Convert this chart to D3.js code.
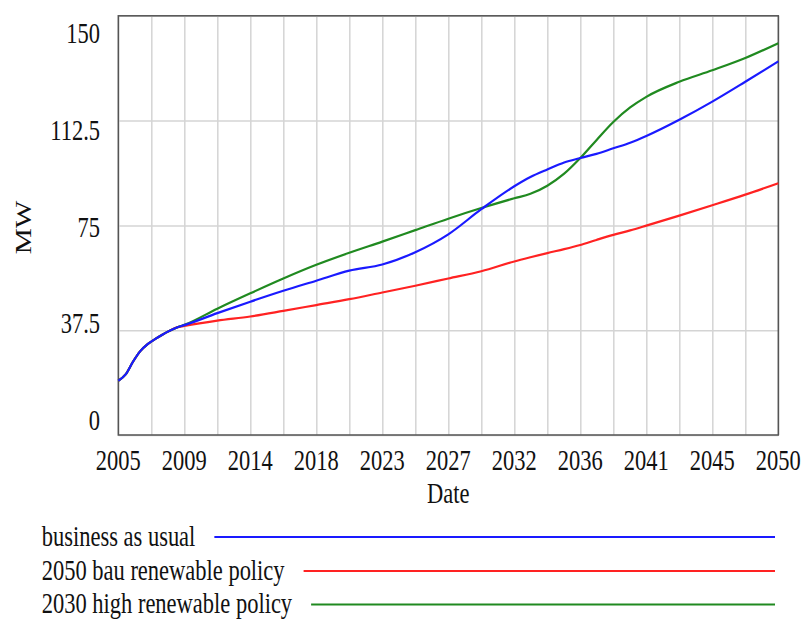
<!DOCTYPE html>
<html>
<head>
<meta charset="utf-8">
<script src="https://cdn.jsdelivr.net/npm/d3@7"></script>
<style>
  html, body { margin: 0; padding: 0; background: #fff; }
  svg { display: block; }
  text { font-family: "Liberation Serif", "Times New Roman", serif; fill: #111; }
</style>
</head>
<body>
<svg id="chart" width="801" height="620"></svg>
<script>
// Simulation output, MW by year
const years = [2005, 2005.5, 2006, 2006.5, 2007, 2007.5, 2008, 2008.5, 2009, 2009.5,
  2011.75, 2014, 2016.25, 2018.5, 2020.75, 2023, 2025.25, 2027.5, 2029.75, 2032,
  2033.1, 2034.25, 2035.4, 2036.5, 2037.6, 2038.75, 2039.9, 2041, 2043.25, 2045.5,
  2047.75, 2050];

const businessAsUsual = [19.4, 21.7, 26.2, 30.0, 32.5, 34.3, 35.9, 37.3, 38.5, 39.3,
  43.6, 47.7, 51.6, 55.2, 58.8, 61.0, 65.4, 71.8, 80.8, 89.0,
  92.3, 95.0, 97.5, 99.1, 100.6, 102.6, 104.6, 107.0, 112.8, 119.3,
  126.4, 133.7];

const bauRenewable2050 = [19.4, 21.7, 26.2, 30.0, 32.5, 34.3, 35.9, 37.3, 38.5, 39.0,
  40.9, 42.4, 44.4, 46.5, 48.6, 51.0, 53.4, 56.0, 58.6, 62.1,
  63.6, 65.1, 66.5, 68.0, 69.8, 71.6, 73.2, 74.9, 78.5, 82.2,
  86.0, 90.1];

const highRenewable2030 = [19.4, 21.7, 26.2, 30.0, 32.5, 34.3, 35.9, 37.3, 38.5, 39.4,
  45.2, 50.7, 56.0, 60.9, 65.2, 69.2, 73.3, 77.4, 81.2, 84.7,
  86.3, 89.2, 93.5, 99.1, 105.5, 112.0, 117.2, 121.0, 126.4, 130.5,
  134.9, 140.2];

const seriesNames = ["business as usual", "2050 bau renewable policy", "2030 high renewable policy"];
const seriesColors = ["#1a1aff", "#ff2222", "#208a20"];

const yTicks = [0, 37.5, 75, 112.5, 150];
const xTickYears = [2005, 2009.5, 2014, 2018.5, 2023, 2027.5, 2032, 2036.5, 2041, 2045.5, 2050];
const xTickLabels = ["2005", "2009", "2014", "2018", "2023", "2027", "2032", "2036", "2041", "2045", "2050"];
const xGridYears = d3.range(0, 21).map(i => 2005 + i * 2.25);

const svg = d3.select("#chart");
const plotLeft = 118.3, plotRight = 778.3, plotTop = 15.8, plotBottom = 435;
const stretch = 1.3;    // tall, narrow lettering
const fontSize = 22.5;

const x = d3.scaleLinear().domain([2005, 2050]).range([plotLeft, plotRight]);
const y = d3.scaleLinear().domain([0, 150]).range([plotBottom, plotTop]);
// tick labels are spread evenly inside the axis span
const yLabelPos = d3.scalePoint().domain(yTicks.slice().reverse()).range([43, 430]);

// gridlines
svg.append("g")
  .attr("transform", `translate(0,${plotBottom})`)
  .call(d3.axisBottom(x).tickValues(xGridYears).tickSize(-(plotBottom - plotTop)).tickFormat(""))
  .call(g => g.select(".domain").remove())
  .call(g => g.selectAll(".tick line").attr("stroke", "#d4d4d4").attr("stroke-width", 1.5));

svg.append("g")
  .attr("transform", `translate(${plotLeft},0)`)
  .call(d3.axisLeft(y).tickValues(yTicks).tickSize(-(plotRight - plotLeft)).tickFormat(""))
  .call(g => g.select(".domain").remove())
  .call(g => g.selectAll(".tick line").attr("stroke", "#d4d4d4").attr("stroke-width", 1.5));

// frame
svg.append("rect")
  .attr("x", plotLeft).attr("y", plotTop)
  .attr("width", plotRight - plotLeft).attr("height", plotBottom - plotTop)
  .attr("fill", "none").attr("stroke", "#555").attr("stroke-width", 1.5);

function stretchedText(parent, tx, ty, str, anchor, rotate) {
  const g = parent.append("g")
    .attr("transform", `translate(${tx},${ty}) scale(1,${stretch})` + (rotate ? ` rotate(${rotate})` : ""));
  return g.append("text")
    .attr("text-anchor", anchor)
    .attr("font-size", fontSize)
    .text(str);
}

// y tick labels
yTicks.forEach(v => stretchedText(svg, 100, yLabelPos(v), String(v), "end"));

// x tick labels
xTickYears.forEach((yr, i) => stretchedText(svg, x(yr), 470, xTickLabels[i], "middle"));

// axis titles
stretchedText(svg, (plotLeft + plotRight) / 2, 503, "Date", "middle");
stretchedText(svg, 31, 227.5, "MW", "middle", -90);

// series
const line = d3.line()
  .x((d, i) => x(years[i]))
  .y(d => y(d))
  .curve(d3.curveMonotoneX);

const allSeries = [businessAsUsual, bauRenewable2050, highRenewable2030];
// blue drawn last so it sits on top where the curves meet early on
[1, 2, 0].forEach(k => {
  svg.append("path")
    .datum(allSeries[k])
    .attr("d", line)
    .attr("fill", "none")
    .attr("stroke", seriesColors[k])
    .attr("stroke-width", 2.2)
    .attr("stroke-linejoin", "round");
});

// legend
const legendBase = [546, 580, 613];
const legendLineY = [537, 571, 604.5];
seriesNames.forEach((name, i) => {
  const t = stretchedText(svg, 41.7, legendBase[i], name, "start");
  const w = t.node().getComputedTextLength();
  svg.append("line")
    .attr("x1", 41.7 + w + 19).attr("x2", 775)
    .attr("y1", legendLineY[i]).attr("y2", legendLineY[i])
    .attr("stroke", seriesColors[i]).attr("stroke-width", 2.2);
});
</script>
</body>
</html>
